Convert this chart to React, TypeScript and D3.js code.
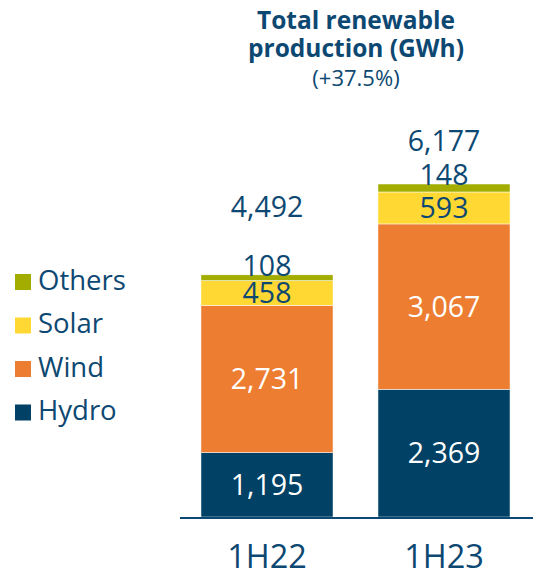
import * as d3 from 'd3';

const categories = ['1H22', '1H23'];
const seriesNames = ['Hydro', 'Wind', 'Solar', 'Others'];
const hydro = [1195, 2369];
const wind = [2731, 3067];
const solar = [458, 593];
const others = [108, 148];
const totals = [4492, 6177];
const legendOrder = ['Others', 'Solar', 'Wind', 'Hydro'];

const colors: Record<string, string> = {
  Hydro: '#004165',
  Wind: '#ED7D31',
  Solar: '#FFD833',
  Others: '#A2AD00',
};
const textColor = '#0D4872';
const font = '"Open Sans", sans-serif';

// how far above the bar top the total sits (px), per bar
const totalGap = [68, 43];

export default function App() {
  const width = 537;
  const height = 573;
  const baseY = 517;

  const rows = categories.map((c, i) => ({
    cat: c,
    Hydro: hydro[i],
    Wind: wind[i],
    Solar: solar[i],
    Others: others[i],
  }));
  const stack = d3.stack<any>().keys(seriesNames)(rows);

  const x = d3
    .scaleBand<string>()
    .domain(categories)
    .range([178.5, 532.5])
    .paddingInner(0.254)
    .paddingOuter(0.127);
  const y = d3
    .scaleLinear()
    .domain([0, d3.max(totals)!])
    .range([baseY, 184]);

  const fmt = d3.format(',');

  return (
    <svg
      width={width}
      height={height}
      style={{ position: 'absolute', left: 0, top: 0 }}
      fontFamily={font}
    >
      <g fill={textColor} textAnchor="middle">
        <text x={356} y={29} fontSize={24.5} fontWeight={700}>Total renewable</text>
        <text x={356} y={57} fontSize={24.5} fontWeight={700}>production (GWh)</text>
        <text x={356} y={86} fontSize={22}>(+37.5%)</text>
      </g>

      {stack.map((s) => (
        <g key={s.key} fill={colors[s.key]}>
          {s.map((d, i) => (
            <rect
              key={i}
              x={x(categories[i])!}
              y={y(d[1])}
              width={x.bandwidth()}
              height={y(d[0]) - y(d[1])}
              stroke="#fff"
              strokeWidth={0.5}
            />
          ))}
        </g>
      ))}

      {stack.map((s) =>
        s.map((d, i) => {
          const cx = x(categories[i])! + x.bandwidth() / 2;
          const val = d[1] - d[0];
          const isOthers = s.key === 'Others';
          const isLight = s.key === 'Hydro' || s.key === 'Wind';
          const cy = isOthers ? y(d[1]) - 9 : (y(d[0]) + y(d[1])) / 2;
          return (
            <text
              key={s.key + i}
              x={cx}
              y={cy}
              dy="0.35em"
              textAnchor="middle"
              fontSize={28.5}
              fill={isLight ? '#fff' : textColor}
            >
              {fmt(val)}
            </text>
          );
        })
      )}

      {totals.map((t, i) => (
        <text
          key={'t' + i}
          x={x(categories[i])! + x.bandwidth() / 2}
          y={y(t) - totalGap[i]}
          dy="0.35em"
          textAnchor="middle"
          fontSize={28.5}
          fill={textColor}
        >
          {fmt(t)}
        </text>
      ))}

      <line x1={180} x2={533} y1={baseY + 1} y2={baseY + 1} stroke={textColor} strokeWidth={2} />

      {categories.map((c) => (
        <text
          key={c}
          x={x(c)! + x.bandwidth() / 2}
          y={568}
          textAnchor="middle"
          fontSize={32.5}
          fill={textColor}
        >
          {c}
        </text>
      ))}

      {legendOrder.map((k, i) => (
        <g key={k} transform={`translate(15,${274 + i * 43.5})`}>
          <rect width={16} height={16} fill={colors[k]} />
          <text x={23} y={15.5} fontSize={27.5} fill={textColor}>
            {k}
          </text>
        </g>
      ))}
    </svg>
  );
}
